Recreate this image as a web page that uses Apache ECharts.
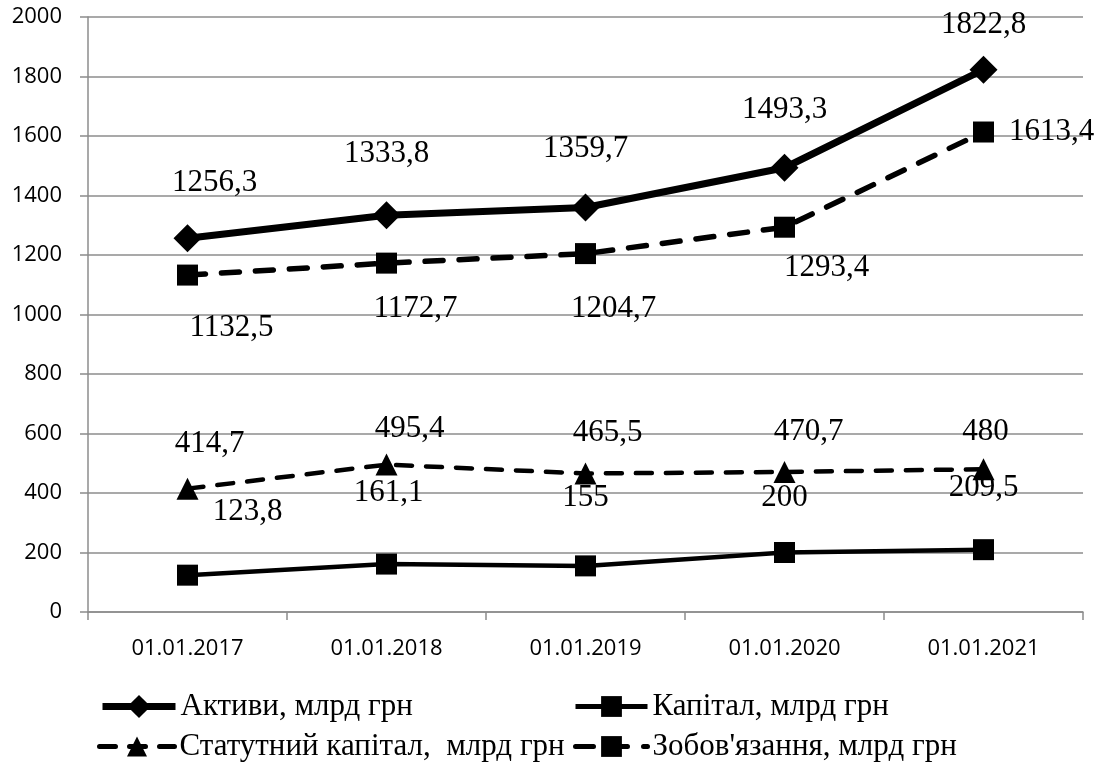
<!DOCTYPE html>
<html>
<head>
<meta charset="utf-8">
<script src="https://cdn.jsdelivr.net/npm/echarts@6/dist/echarts.min.js"></script>
<style>
html,body{margin:0;padding:0;background:#fff;}
#chart{width:1106px;height:766px;}
</style>
</head>
<body>
<div id="chart"></div>
<script>
var categories = ['01.01.2017', '01.01.2018', '01.01.2019', '01.01.2020', '01.01.2021'];
var seriesNames = ['Активи, млрд грн', 'Капітал, млрд грн', 'Статутний капітал,  млрд грн', "Зобов'язання, млрд грн"];
var aktyvy = [1256.3, 1333.8, 1359.7, 1493.3, 1822.8];
var kapital = [123.8, 161.1, 155, 200, 209.5];
var statutnyi = [414.7, 495.4, 465.5, 470.7, 480];
var zobovyazannya = [1132.5, 1172.7, 1204.7, 1293.4, 1613.4];
var yTicks = [0, 200, 400, 600, 800, 1000, 1200, 1400, 1600, 1800, 2000];

// label placement (style only)
var offAktyvy = [[27,-55],[0,-61],[0,-59],[0,-58],[0,-45]];
var offKapital = [[60,-63],[2,-71],[0,-68],[0,-55],[0,-62]];
var offStatutnyi = [[22,-45],[23,-36],[22,-41],[24,-40],[2,-37]];
var offZobov = [[44,53],[29,46],[28,55],[42,41],[68,0]];

function fmt(v){ return String(v).replace('.', ','); }
function build(values, offs){
  return values.map(function(v,i){
    return {value: v, label: {offset: offs[i]}};
  });
}
var serif = 'Liberation Serif';
var labelBase = {show:true, position:'inside', fontFamily: serif, fontSize: 31, color:'#000',
  formatter: function(p){ return fmt(p.value); }};

var chart = echarts.init(document.getElementById('chart'), null, {renderer:'canvas'});
var legendText = {fontFamily: serif, fontSize: 31, color:'#000'};
chart.setOption({
  animation: false,
  backgroundColor: '#fff',
  grid: {left: 88, right: 23, top: 17, bottom: 154, containLabel: false},
  xAxis: {
    type: 'category', data: categories, boundaryGap: true,
    axisLine: {lineStyle: {color:'#8c8c8c', width: 1.5}},
    axisTick: {show: true, length: 8, lineStyle: {color:'#8c8c8c', width: 1.5}},
    axisLabel: {fontFamily: 'Open Sans', fontSize: 22, color:'#000', margin: 26}
  },
  yAxis: {
    type: 'value', min: 0, max: 2000, interval: 200,
    axisLine: {show: true, lineStyle: {color:'#8c8c8c', width: 1.5}},
    axisTick: {show: true, length: 8, lineStyle: {color:'#8c8c8c', width: 1.5}},
    splitLine: {lineStyle: {color:'#8c8c8c', width: 1.5}},
    axisLabel: {fontFamily: 'Open Sans', fontSize: 22, color:'#000', margin: 26,
      formatter: function(v){ return yTicks.indexOf(v) >= 0 ? String(v) : ''; }}
  },
  legend: [
    {data:[seriesNames[0]], left: 94, top: 686, itemWidth: 73, itemHeight: 29, textStyle: legendText,
      lineStyle: {width: 7}},
    {data:[seriesNames[1]], left: 568, top: 686, itemWidth: 72, itemHeight: 26, textStyle: legendText,
      lineStyle: {width: 5}},
    {data:[seriesNames[2]], left: 92, top: 726, itemWidth: 75, itemHeight: 25, textStyle: legendText,
      lineStyle: {width: 5}},
    {data:[seriesNames[3]], left: 568, top: 726, itemWidth: 72, itemHeight: 26, textStyle: legendText,
      lineStyle: {width: 5}}
  ],
  series: [
    {name: seriesNames[0], type:'line', data: build(aktyvy, offAktyvy),
      symbol:'diamond', symbolSize: 28, showAllSymbol: true,
      lineStyle:{color:'#000', width: 7}, itemStyle:{color:'#000'},
      label: labelBase, z: 5},
    {name: seriesNames[1], type:'line', data: build(kapital, offKapital),
      symbol:'rect', symbolSize: 21,
      lineStyle:{color:'#000', width: 4.5}, itemStyle:{color:'#000'},
      label: labelBase},
    {name: seriesNames[2], type:'line', data: build(statutnyi, offStatutnyi),
      symbol:'triangle', symbolSize: 22,
      lineStyle:{color:'#000', width: 4.5, type:[16,14], cap:'round'}, itemStyle:{color:'#000'},
      label: labelBase},
    {name: seriesNames[3], type:'line', data: build(zobovyazannya, offZobov),
      symbol:'rect', symbolSize: 21,
      lineStyle:{color:'#000', width: 5.5, type:[18,16], cap:'round'}, itemStyle:{color:'#000'},
      label: labelBase}
  ]
});
</script>
</body>
</html>
